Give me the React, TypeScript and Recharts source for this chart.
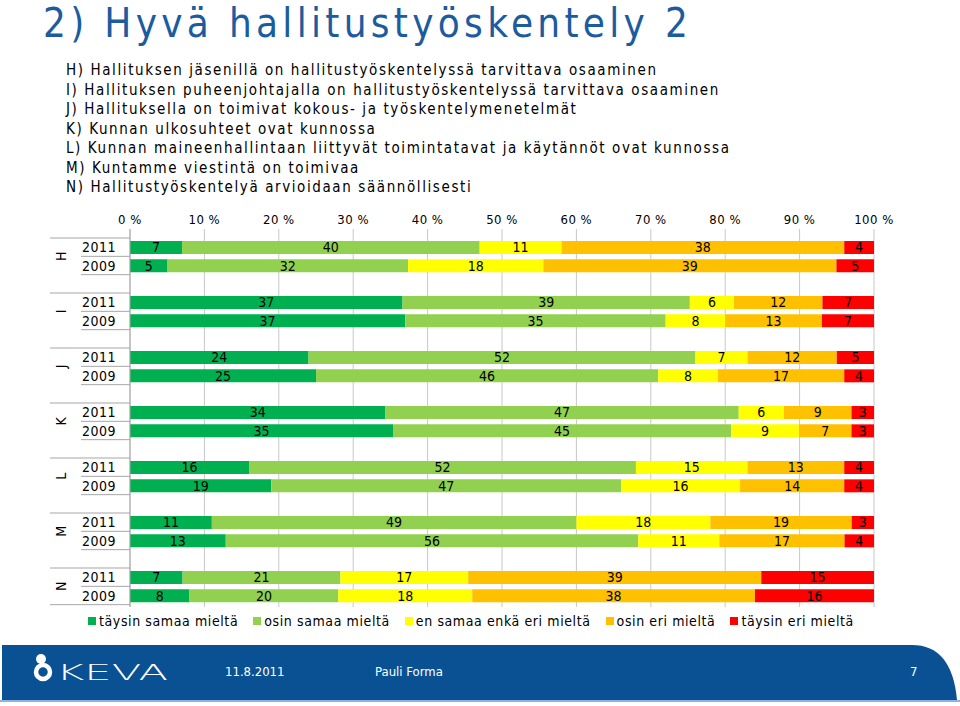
import React from "react";
import { Bar, BarChart, CartesianGrid, LabelList, XAxis, YAxis } from "recharts";

const groups = ["H", "I", "J", "K", "L", "M", "N"];
const years = ["2011", "2009"];

const statements = [
  "H) Hallituksen jäsenillä on hallitustyöskentelyssä tarvittava osaaminen",
  "I) Hallituksen puheenjohtajalla on hallitustyöskentelyssä tarvittava osaaminen",
  "J) Hallituksella on toimivat kokous- ja työskentelymenetelmät",
  "K) Kunnan ulkosuhteet ovat kunnossa",
  "L) Kunnan maineenhallintaan liittyvät toimintatavat ja käytännöt ovat kunnossa",
  "M) Kuntamme viestintä on toimivaa",
  "N) Hallitustyöskentelyä arvioidaan säännöllisesti",
];

const seriesNames = [
  "täysin samaa mieltä",
  "osin samaa mieltä",
  "en samaa enkä eri mieltä",
  "osin eri mieltä",
  "täysin eri mieltä",
];
const seriesColors = ["#00B050", "#92D050", "#FFFF00", "#FFC000", "#FF0000"];

// one array per answer, in group order H..N
const taysinSamaa2011 = [7, 37, 24, 34, 16, 11, 7];
const osinSamaa2011 = [40, 39, 52, 47, 52, 49, 21];
const enSamaa2011 = [11, 6, 7, 6, 15, 18, 17];
const osinEri2011 = [38, 12, 12, 9, 13, 19, 39];
const taysinEri2011 = [4, 7, 5, 3, 4, 3, 15];

const taysinSamaa2009 = [5, 37, 25, 35, 19, 13, 8];
const osinSamaa2009 = [32, 35, 46, 45, 47, 56, 20];
const enSamaa2009 = [18, 8, 8, 9, 16, 11, 18];
const osinEri2009 = [39, 13, 17, 7, 14, 17, 38];
const taysinEri2009 = [5, 7, 4, 3, 4, 4, 16];

const xTicks = [0, 0.1, 0.2, 0.3, 0.4, 0.5, 0.6, 0.7, 0.8, 0.9, 1];

const byYear: Record<string, number[][]> = {
  "2011": [taysinSamaa2011, osinSamaa2011, enSamaa2011, osinEri2011, taysinEri2011],
  "2009": [taysinSamaa2009, osinSamaa2009, enSamaa2009, osinEri2009, taysinEri2009],
};

const seriesKeys = ["s0", "s1", "s2", "s3", "s4"];

const rows: any[] = [];
groups.forEach((g, gi) => {
  years.forEach((yr) => {
    const row: any = { key: `${g}-${yr}` };
    seriesKeys.forEach((k, si) => {
      row[k] = byYear[yr][si][gi];
    });
    rows.push(row);
  });
  if (gi < groups.length - 1) rows.push({ key: `${g}-gap` });
});

const FONT = "'Liberation Sans Narrow', 'DejaVu Sans Condensed', 'Liberation Sans', sans-serif";
const LINE = "#A6A6A6";

function RowTick(props: any) {
  const { x, y, payload } = props;
  const [group, year] = String(payload.value).split("-");
  if (year === "gap") return null;
  const half = payload.offset || 9.17;
  const isLast = group === groups[groups.length - 1];
  if (year === "2011") {
    return (
      <g>
        <line x1={x - 80} x2={x} y1={y - half} y2={y - half} stroke={LINE} />
        <line x1={x - 49} x2={x} y1={y + half} y2={y + half} stroke={LINE} />
        <text x={x - 48} y={y} dy={5} fontSize={14} fontFamily={FONT} fill="#000" letterSpacing={0.5}>
          {year}
        </text>
      </g>
    );
  }
  return (
    <g>
      <line x1={isLast ? x - 80 : x - 49} x2={x} y1={y + half} y2={y + half} stroke={LINE} />
      <text x={x - 48} y={y} dy={5} fontSize={14} fontFamily={FONT} fill="#000" letterSpacing={0.5}>
        {year}
      </text>
      <text
        x={x - 69}
        y={y - half}
        fontSize={14}
        fontFamily={FONT}
        fill="#000"
        textAnchor="middle"
        dominantBaseline="central"
        transform={`rotate(-90 ${x - 69} ${y - half})`}
      >
        {group}
      </text>
    </g>
  );
}

function Footer() {
  return (
    <svg width={960} height={66} style={{ position: "absolute", left: 0, top: 640 }}>
      <path d="M2 5 H912 Q952 5 957 60 H2 Z" fill="#0A5194" />
      <rect x={0} y={60} width={960} height={2} fill="#8DB3E2" />
      <circle cx={41} cy={19} r={5} fill="#fff" />
      <circle cx={43} cy={32} r={7} fill="none" stroke="#fff" strokeWidth={4.5} />
      <text
        x={56}
        y={40}
        fill="#fff"
        fontSize={21}
        fontFamily="'DejaVu Sans', sans-serif"
        fontWeight={300}
        textLength={112}
        lengthAdjust="spacingAndGlyphs"
      >
        KEVA
      </text>
      <text x={225} y={36} fill="#fff" fontSize={13} fontFamily={FONT}>
        11.8.2011
      </text>
      <text x={375} y={36} fill="#fff" fontSize={13} fontFamily={FONT}>
        Pauli Forma
      </text>
      <text x={910} y={36} fill="#fff" fontSize={13} fontFamily={FONT}>
        7
      </text>
    </svg>
  );
}

export default function App() {
  return (
    <div style={{ position: "absolute", left: 0, top: 0, width: 960, height: 706, background: "#fff", overflow: "hidden", fontFamily: FONT }}>
      <div style={{ position: "absolute", left: 43, top: 0, fontSize: 40, color: "#1C5C9E", letterSpacing: 4.3, whiteSpace: "nowrap" }}>
        2) Hyvä hallitustyöskentely 2
      </div>
      <div style={{ position: "absolute", left: 66, top: 61, fontSize: 15, lineHeight: "19.5px", color: "#000", letterSpacing: 1.6, whiteSpace: "nowrap" }}>
        {statements.map((s) => (
          <div key={s}>{s}</div>
        ))}
      </div>

      <div style={{ position: "absolute", left: 0, top: 0 }}>
        <BarChart
          width={960}
          height={640}
          data={rows}
          layout="vertical"
          stackOffset="expand"
          margin={{ top: 199, right: 86, bottom: 33, left: 50 }}
        >
          <CartesianGrid horizontal={false} stroke="#C8C8C8" />
          <XAxis
            type="number"
            orientation="top"
            domain={[0, 1]}
            ticks={xTicks}
            tickFormatter={(v: number) => `${Math.round(v * 100)} %`}
            axisLine={false}
            tickLine={false}
            tickSize={0}
            tickMargin={5}
            height={30}
            tick={{ fill: "#000", fontSize: 13, fontFamily: FONT, letterSpacing: 0.5 }}
          />
          <YAxis
            type="category"
            dataKey="key"
            width={80}
            padding={{ top: 9, bottom: 2.33 }}
            axisLine={{ stroke: LINE }}
            tickLine={false}
            tickSize={0}
            tickMargin={0}
            tick={<RowTick />}
            interval={0}
          />
          {seriesKeys.map((k, i) => (
            <Bar key={k} dataKey={k} name={seriesNames[i]} stackId="a" fill={seriesColors[i]} barSize={13} isAnimationActive={false}>
              <LabelList dataKey={k} position="center" fill="#000" fontSize={14} fontFamily={FONT} />
            </Bar>
          ))}
        </BarChart>
      </div>

      <div style={{ position: "absolute", left: 88, top: 612, display: "flex", gap: 15, fontSize: 14, lineHeight: "18px", letterSpacing: 0.6, whiteSpace: "nowrap" }}>
        {seriesNames.map((n, i) => (
          <div key={n} style={{ display: "flex", alignItems: "center" }}>
            <span style={{ display: "inline-block", width: 8, height: 8, background: seriesColors[i], marginRight: 3 }} />
            {n}
          </div>
        ))}
      </div>

      <Footer />
    </div>
  );
}
